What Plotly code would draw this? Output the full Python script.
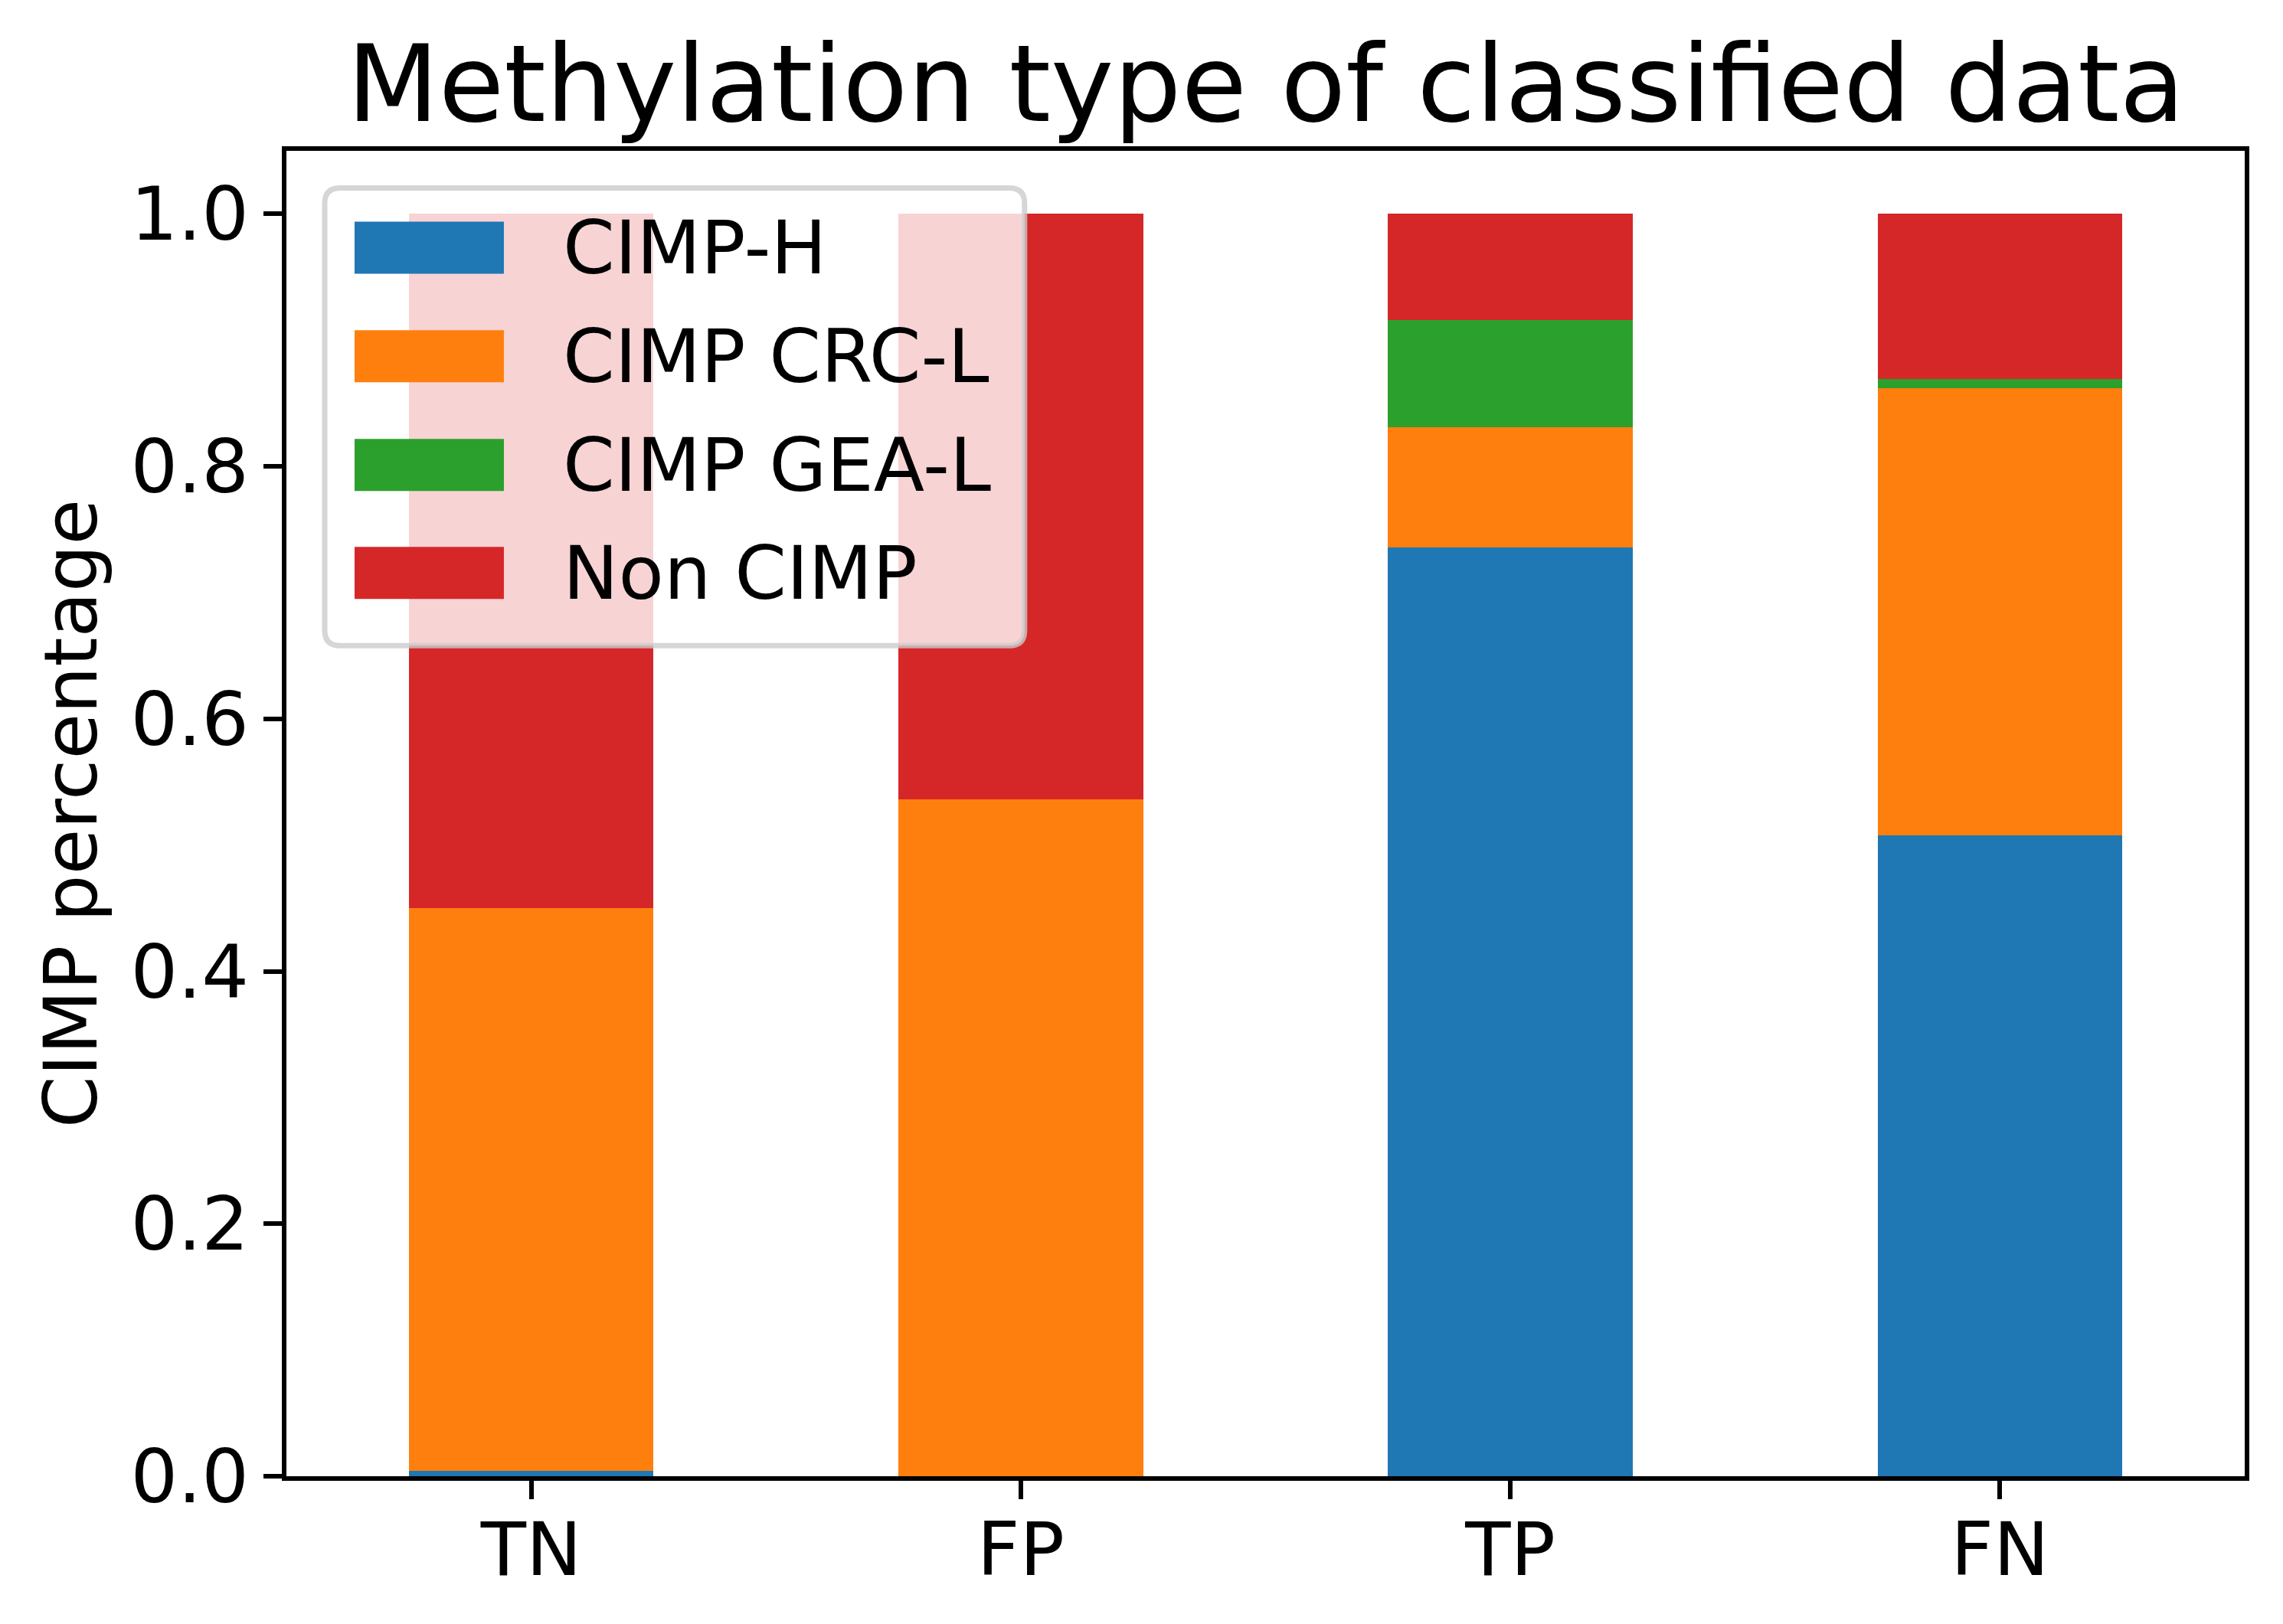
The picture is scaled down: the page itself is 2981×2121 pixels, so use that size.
import plotly.graph_objects as go

# ---------------- data ----------------
categories = ["TN", "FP", "TP", "FN"]
series_names = ["CIMP-H", "CIMP CRC-L", "CIMP GEA-L", "Non CIMP"]
cimp_h = [0.004, 0.0, 0.736, 0.508]
cimp_crc_l = [0.446, 0.536, 0.095, 0.354]
cimp_gea_l = [0.0, 0.0, 0.085, 0.007]
non_cimp = [0.550, 0.464, 0.084, 0.131]
y_ticks = [0.0, 0.2, 0.4, 0.6, 0.8, 1.0]

series_values = [cimp_h, cimp_crc_l, cimp_gea_l, non_cimp]
colors = ["#1f77b4", "#ff7f0e", "#2ca02c", "#d62728"]

# ---------------- layout geometry (px, page coords minus body margin) ----------------
OFF = 8
W, H = 2981 - 2 * OFF, 2121 - 2 * OFF
L, R, T, B = 374 - OFF, 2931.5 - OFF, 196.5 - OFF, 1928.5 - OFF
FONT = "DejaVu Sans"

fig = go.Figure()
for name, vals, col in zip(series_names, series_values, colors):
    fig.add_trace(go.Bar(
        x=categories, y=vals, name=name, width=0.5,
        marker=dict(color=col, line=dict(width=0)),
        showlegend=False,
    ))


def px_to_paper(px, py):
    return (px - OFF - L) / (R - L), (B - (py - OFF)) / (B - T)


def P(x, y):
    a, b = px_to_paper(x, y)
    return f"{a:.5f},{b:.5f}"


# custom legend (matplotlib style, rounded frame, semi-transparent)
lx0, ly0, lx1, ly1 = 424, 245, 1338, 843
rad = 20
path = (
    f"M {P(lx0 + rad, ly0)} L {P(lx1 - rad, ly0)} Q {P(lx1, ly0)} {P(lx1, ly0 + rad)} "
    f"L {P(lx1, ly1 - rad)} Q {P(lx1, ly1)} {P(lx1 - rad, ly1)} "
    f"L {P(lx0 + rad, ly1)} Q {P(lx0, ly1)} {P(lx0, ly1 - rad)} "
    f"L {P(lx0, ly0 + rad)} Q {P(lx0, ly0)} {P(lx0 + rad, ly0)} Z"
)
shapes = [dict(
    type="path", path=path, xref="paper", yref="paper", layer="above",
    fillcolor="rgba(255,255,255,0.8)",
    line=dict(color="rgba(204,204,204,0.8)", width=7),
)]
annotations = []
row_centers = [323, 465, 607, 748]
for name, col, cy in zip(series_names, colors, row_centers):
    x0, y0 = px_to_paper(463, cy - 34)
    x1, y1 = px_to_paper(658, cy + 34)
    shapes.append(dict(type="rect", xref="paper", yref="paper", layer="above",
                       x0=x0, x1=x1, y0=y1, y1=y0, fillcolor=col, line=dict(width=0)))
    tx, ty = px_to_paper(733, cy)
    annotations.append(dict(
        text=name, xref="paper", yref="paper", x=tx, y=ty,
        xanchor="left", yanchor="middle", showarrow=False,
        font=dict(family=FONT, size=97, color="black"),
    ))

fig.update_layout(
    width=W, height=H,
    margin=dict(l=L, r=W - R, t=T, b=H - B, pad=0),
    paper_bgcolor="white", plot_bgcolor="white",
    barmode="stack", bargap=0,
    font=dict(family=FONT, size=97, color="black"),
    title=dict(
        text="Methylation type of classified data",
        x=(L + R) / 2 / W, xanchor="center", xref="container",
        y=1 - 150 / H, yanchor="bottom", yref="container",
        font=dict(family=FONT, size=139, color="black"),
    ),
    xaxis=dict(
        type="category", range=[-0.5, 3.5],
        showline=True, mirror=True, linecolor="black", linewidth=5.5,
        ticks="outside", ticklen=24, tickwidth=5.5, tickcolor="black",
        showgrid=False, zeroline=False,
        tickfont=dict(family=FONT, size=97, color="black"),
        ticklabelstandoff=-17,
    ),
    yaxis=dict(
        range=[0, 1.05], tickvals=y_ticks, tickformat=".1f",
        showline=True, mirror=True, linecolor="black", linewidth=5.5,
        ticks="outside", ticklen=24, tickwidth=5.5, tickcolor="black",
        showgrid=False, zeroline=False,
        tickfont=dict(family=FONT, size=97, color="black"),
        ticklabelstandoff=0,
        title=dict(text="CIMP percentage", standoff=14,
                   font=dict(family=FONT, size=97, color="black")),
    ),
    shapes=shapes,
    annotations=annotations,
)

fig.write_html("out.html")
